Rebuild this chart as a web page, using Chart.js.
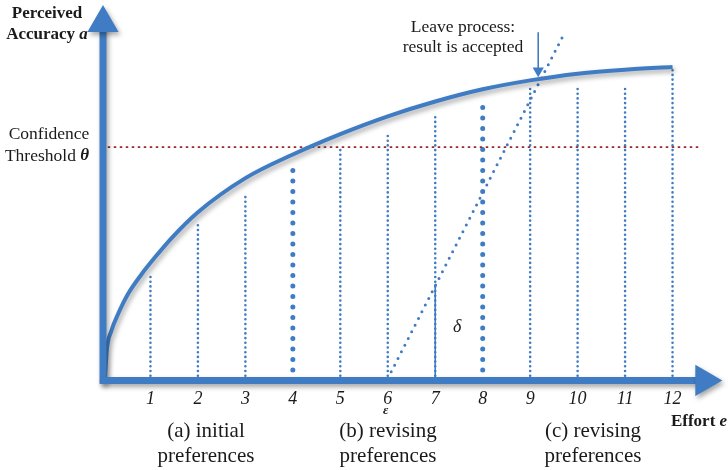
<!DOCTYPE html>
<html>
<head>
<meta charset="utf-8">
<script src="https://cdn.jsdelivr.net/npm/chart.js@4.4.1/dist/chart.umd.min.js"></script>
<style>
  html, body { margin: 0; padding: 0; background: #fff; }
  #wrap { width: 728px; height: 470px; }
</style>
</head>
<body>
<div id="wrap"><canvas id="effortChart"></canvas></div>
<script>
/*--data--*/
var effort = [1, 2, 3, 4, 5, 6, 7, 8, 9, 10, 11, 12];
var tickLabels = ['1', '2', '3', '4', '5', '6', '7', '8', '9', '10', '11', '12'];
// perceived accuracy curve
var curveEffort = [0.04, 0.08, 0.18, 0.32, 0.53, 0.82, 1.1, 1.45, 2, 3, 4, 5, 6, 7, 8, 9, 10, 11, 12];
var curveAccuracy = [0, 8.1, 13.5, 18, 23.4, 28.8, 33.3, 38.5, 45.4, 54.6, 61, 66.5, 71.3, 75.3, 78.6, 81, 82.8, 83.9, 84.6];
// height of the dotted line standing on each effort step
var stepTops = [28.9, 41.9, 49.5, 56.8, 63, 66.5, 72.2, 73.8, 79.2, 79.7, 79.7, 84.6];
var boldSteps = [4, 8];
var threshold = 63;
var thresholdEffort = [0.1, 12.6];
// revising preferences line, starts at epsilon
var revisionEffort = [6, 9.7];
var revisionAccuracy = [0.5, 93.2];
var deltaEffort = 7;
var deltaTop = 25.6;
// "leave process" arrow
var leaveEffort = 9.17;
var leaveAccuracy = [94, 83.6];

var BLUE = '#3f7cc3';
var RED = '#9b2a2a';
var SERIF = '"Liberation Serif", "Times New Roman", serif';

function seg(x0, y0, x1, y1) { return [{x: x0, y: y0}, {x: x1, y: y1}]; }

var datasets = [];
/*--axes (first in list = drawn on top)--*/
datasets.push({
  data: seg(-0.06, 0, 12.67, 0), borderColor: BLUE, borderWidth: 7,
  pointRadius: [0, 18], pointStyle: 'triangle', pointRotation: [0, 90],
  pointBackgroundColor: BLUE, pointBorderWidth: 0, clip: false, shadow: true
});
datasets.push({
  data: seg(0, -0.9, 0, 96.5), borderColor: BLUE, borderWidth: 7,
  pointRadius: [0, 18], pointStyle: 'triangle', pointRotation: [0, 0],
  pointBackgroundColor: BLUE, pointBorderWidth: 0, clip: false, shadow: true
});
/*--accuracy curve--*/
datasets.push({
  data: curveEffort.map(function (e, i) { return {x: e, y: curveAccuracy[i]}; }),
  borderColor: BLUE, borderWidth: 4, pointRadius: 0,
  cubicInterpolationMode: 'monotone', shadow: true
});
/*--leave arrow--*/
datasets.push({
  data: seg(leaveEffort, leaveAccuracy[0], leaveEffort, leaveAccuracy[1]),
  borderColor: BLUE, borderWidth: 1.6,
  pointRadius: [0, 6.5], pointStyle: 'triangle', pointRotation: [0, 180],
  pointBackgroundColor: BLUE, pointBorderWidth: 0
});
/*--threshold--*/
datasets.push({
  data: seg(thresholdEffort[0], threshold, thresholdEffort[1], threshold),
  borderColor: RED, borderWidth: 1.8, borderDash: [2.5, 3.5], pointRadius: 0
});
/*--revision line + delta--*/
datasets.push({
  data: seg(revisionEffort[0], revisionAccuracy[0], revisionEffort[1], revisionAccuracy[1]),
  borderColor: BLUE, borderWidth: 3, borderDash: [0, 7.5], borderCapStyle: 'round', pointRadius: 0
});
datasets.push({
  data: seg(deltaEffort, 0, deltaEffort, deltaTop),
  borderColor: BLUE, borderWidth: 1.6, pointRadius: 0
});
/*--dotted steps--*/
effort.forEach(function (e, i) {
  var big = boldSteps.indexOf(e) >= 0;
  datasets.push({
    data: seg(e, 0, e, stepTops[i]),
    borderColor: BLUE, borderWidth: big ? 5 : 2.6,
    borderDash: big ? [0, 10.5] : [0, 4.7], borderCapStyle: 'round', pointRadius: 0
  });
});

var shadowPlugin = {
  id: 'softShadow',
  beforeDatasetDraw: function (chart, args) {
    if (!chart.data.datasets[args.index].shadow) return;
    var ctx = chart.ctx;
    ctx.save();
    ctx.shadowColor = 'rgba(0,0,0,0.35)';
    ctx.shadowBlur = 5;
    ctx.shadowOffsetX = 2;
    ctx.shadowOffsetY = 3;
  },
  afterDatasetDraw: function (chart, args) {
    if (chart.data.datasets[args.index].shadow) chart.ctx.restore();
  }
};

function drawRuns(ctx, runs, cx, cy) {
  var total = 0;
  runs.forEach(function (r) { ctx.font = r[1]; r.w = ctx.measureText(r[0]).width; total += r.w; });
  var x = cx - total / 2;
  ctx.textAlign = 'left';
  ctx.textBaseline = 'middle';
  runs.forEach(function (r) { ctx.font = r[1]; ctx.fillText(r[0], x, cy); x += r.w; });
}

var labelPlugin = {
  id: 'labels',
  afterDraw: function (chart) {
    var ctx = chart.ctx, xs = chart.scales.x, ys = chart.scales.y;
    var reg = '17.5px ' + SERIF, bold = 'bold 17px ' + SERIF, bi = 'italic bold 17px ' + SERIF;
    var big = '21px ' + SERIF;
    ctx.save();
    ctx.fillStyle = '#1a1a1a';
    drawRuns(ctx, [['Perceived', bold]], 47, 14);
    drawRuns(ctx, [['Accuracy ', bold], ['a', bi]], 47, 35);
    drawRuns(ctx, [['Confidence', reg]], 49, 134);
    drawRuns(ctx, [['Threshold ', reg], ['\u03b8', bi]], 47, 156);
    drawRuns(ctx, [['Leave process:', reg]], 463, 27);
    drawRuns(ctx, [['result is accepted', reg]], 463, 47);
    drawRuns(ctx, [['Effort ', bold], ['e', bi]], 699, 422);
    drawRuns(ctx, [['(a) initial', big]], 206, 431);
    drawRuns(ctx, [['preferences', big]], 206, 456);
    drawRuns(ctx, [['(b) revising', big]], 388, 431);
    drawRuns(ctx, [['preferences', big]], 388, 456);
    drawRuns(ctx, [['(c) revising', big]], 593, 431);
    drawRuns(ctx, [['preferences', big]], 593, 456);
    drawRuns(ctx, [['\u03b4', 'italic 18px ' + SERIF]], xs.getPixelForValue(7.46), ys.getPixelForValue(14.3));
    drawRuns(ctx, [['\u03b5', 'italic bold 13px ' + SERIF]], xs.getPixelForValue(revisionEffort[0]) - 2, 411);
    ctx.restore();
  }
};

var ctx = document.getElementById('effortChart').getContext('2d');
var effortChart = new Chart(ctx, {
  type: 'line',
  data: { datasets: datasets },
  plugins: [shadowPlugin, labelPlugin],
  options: {
    responsive: true,
    maintainAspectRatio: false,
    animation: false,
    events: [],
    layout: { autoPadding: false, padding: { left: 103, right: 8, top: 10, bottom: 52 } },
    plugins: { legend: { display: false }, tooltip: { enabled: false } },
    scales: {
      x: {
        type: 'linear', min: 0, max: 13,
        afterBuildTicks: function (s) { s.ticks = effort.map(function (v) { return {value: v}; }); },
        grid: { display: false, drawTicks: false },
        border: { display: false },
        ticks: {
          autoSkip: false, maxRotation: 0, padding: 8, color: '#1a1a1a',
          font: { family: SERIF, size: 18, style: 'italic' },
          callback: function (v, i) { return tickLabels[i]; }
        }
      },
      y: { type: 'linear', display: false, min: 0, max: 100 }
    }
  }
});
</script>
</body>
</html>
